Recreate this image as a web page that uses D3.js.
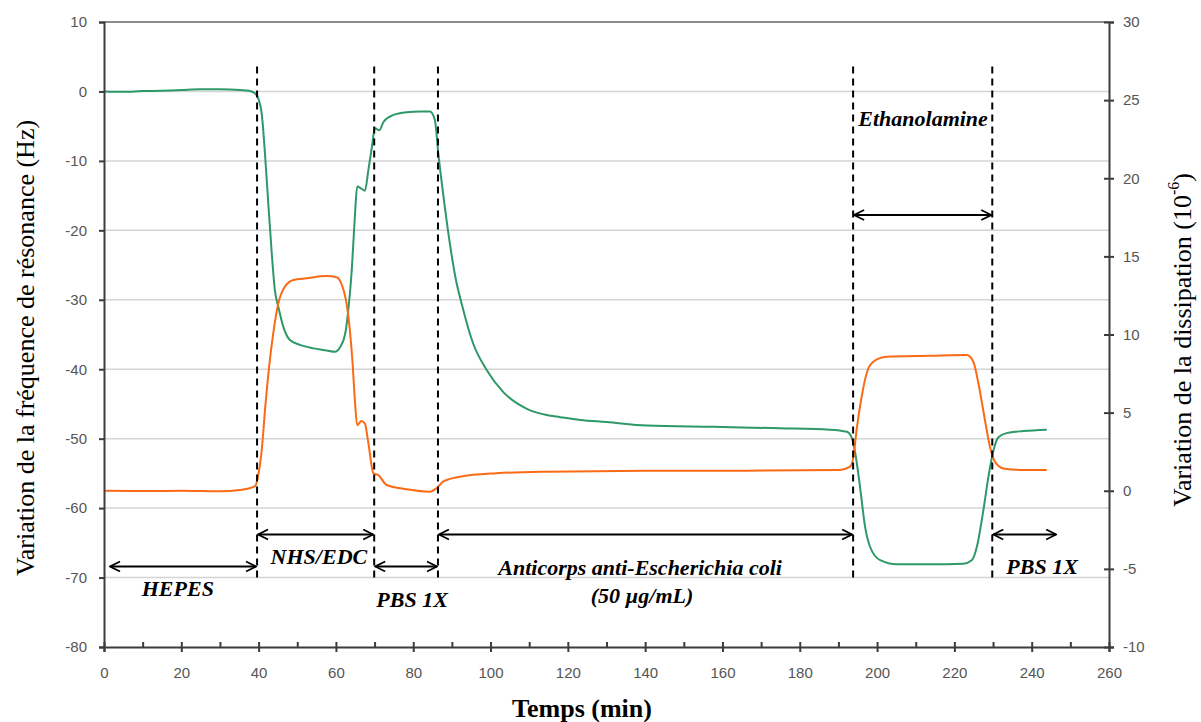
<!DOCTYPE html>
<html><head><meta charset="utf-8">
<script src="https://cdn.jsdelivr.net/npm/d3@7"></script>
<style>body{margin:0;background:#fff}svg{display:block}</style>
</head><body>
<svg id="c" width="1201" height="722"></svg>
<script>
// ---- data ----
const freqTime = [0,5,10,15,20,25,30,35.2,37.5,39.1,39.9,40.8,41.7,42.5,43.4,44.2,45.1,46.4,48.1,50.7,54.2,57.6,59.7,61.1,62.4,63.2,64.1,64.9,65.5,66.6,67.5,68.4,69.3,70.1,71.2,72.3,74.8,78.3,81.8,84.3,85.6,86.5,87.8,89.5,91,92.5,95.5,99,103.3,109.4,114.5,118,123.2,130,140.4,157.6,174.9,187.8,192.2,193.4,194.3,195.6,196.9,198.2,200.8,205.1,213.7,222.3,224.5,225.8,227.5,228.8,230.1,231.4,233.5,237.9,243.9];
const freqHz   = [0,-0.05,0.05,0.1,0.2,0.3,0.3,0.2,0.1,-0.3,-1,-3.2,-9.4,-16.1,-23.3,-28.6,-31,-33.9,-35.8,-36.5,-37,-37.3,-37.5,-36.8,-34.9,-31.5,-25.7,-18,-13.7,-14,-14.3,-11.3,-8,-5.3,-5.6,-4.4,-3.4,-3,-2.9,-2.9,-4.1,-9,-15,-22,-27,-30.5,-36.3,-40.1,-43.3,-45.7,-46.6,-46.9,-47.3,-47.6,-48.1,-48.3,-48.5,-48.7,-49,-49.8,-51.9,-57,-62.7,-65.6,-67.5,-68.1,-68.1,-68,-67.5,-65.6,-60.3,-55.5,-51.7,-49.8,-49.2,-48.9,-48.7];
const dissTime = [0,10,20,30,35.2,39.1,39.9,40.8,41.7,42.7,43.8,45.1,46.8,49,52.4,57.6,60.2,61.5,62.6,63.6,64.3,64.9,65.5,66.6,67.5,68.4,69.7,71,73.1,78.3,84.3,86,87.8,92.1,101.6,114.5,140.4,166.3,190.4,193,193.9,194.7,196,197.3,199,202.5,213.7,223.2,224.9,226.2,227.9,229.2,230.5,232.7,237.9,243.9];
const dissVal  = [0,-0.02,0,-0.03,0.05,0.3,1.0,2.6,5.3,7.9,10.1,12,13.06,13.49,13.6,13.74,13.66,13.2,12.2,10.3,8.2,5.8,4.2,4.46,4.3,3.04,1.12,1.0,0.37,0.1,-0.06,0.15,0.6,0.9,1.12,1.22,1.28,1.28,1.33,1.54,2.18,3.9,6.0,7.52,8.26,8.58,8.64,8.69,8.26,6.9,4.53,2.82,1.86,1.43,1.33,1.33];

const xTicks = [0,20,40,60,80,100,120,140,160,180,200,220,240,260];
const xMinorTicks = [10,30,50,70,90,110,130,150,170,190,210,230,250];
const leftTicks = [-80,-70,-60,-50,-40,-30,-20,-10,0,10];
const rightTicks = [-10,-5,0,5,10,15,20,25,30];

const phaseBounds = [39.6, 69.9, 86.4, 193.8, 229.8];
const phaseArrowFrom = [1.3, 39.6, 69.9, 86.4, 193.8, 229.8];
const phaseArrowTo   = [39.6, 69.9, 86.4, 193.8, 229.8, 246.6];
const phaseArrowHz   = [-68.4, -63.8, -68.4, -63.8, -17.8, -63.8];

const labelTexts = ["HEPES","NHS/EDC","PBS 1X","Anticorps anti-Escherichia coli","(50 µg/mL)","Ethanolamine","PBS 1X"];
const labelTime  = [19.1, 55.6, 79.7, 138.7, 139.2, 211.9, 242.7];
const labelHz    = [-72.7, -68.0, -74.3, -69.7, -73.6, -5.0, -69.5];

const leftTitle = "Variation de la fréquence de résonance  (Hz)";
const rightTitle = "Variation de la dissipation (10";
const rightTitleSup = "-6";
const xTitle = "Temps (min)";

// ---- drawing ----
const svg = d3.select("#c");
const x = d3.scaleLinear([0,260],[104,1109]);
const yL = d3.scaleLinear([-80,10],[647,22]);
const yR = d3.scaleLinear([-10,30],[647,22]);
const axisColor = "#3c3c3c";
const tickFont = "'Liberation Sans', Arial, sans-serif";
const serif = "'Liberation Serif', 'Times New Roman', serif";
const fmt = d => String(d);

// gridlines
svg.append("g").selectAll("line").data(leftTicks.filter(d=>d>-80 && d<10)).join("line")
  .attr("x1",x(0)).attr("x2",x(260)).attr("y1",d=>yL(d)).attr("y2",d=>yL(d))
  .attr("stroke","#d4d4d4").attr("stroke-width",1.5);
svg.append("line").attr("x1",x(0)).attr("x2",x(260)).attr("y1",yL(10)).attr("y2",yL(10))
  .attr("stroke","#666").attr("stroke-width",1.5);

// series
const freq = freqTime.map((t,i)=>({t, v:freqHz[i]}));
const diss = dissTime.map((t,i)=>({t, v:dissVal[i]}));
svg.append("path").datum(freq)
  .attr("d", d3.line().x(d=>x(d.t)).y(d=>yL(d.v)).curve(d3.curveMonotoneX))
  .attr("fill","none").attr("stroke","#2e9868").attr("stroke-width",2);
svg.append("path").datum(diss)
  .attr("d", d3.line().x(d=>x(d.t)).y(d=>yR(d.v)).curve(d3.curveMonotoneX))
  .attr("fill","none").attr("stroke","#fb6a14").attr("stroke-width",2);

// dashed phase boundaries
svg.append("g").selectAll("line").data(phaseBounds).join("line")
  .attr("x1",d=>x(d)).attr("x2",d=>x(d)).attr("y1",yL(3.6)).attr("y2",yL(-70))
  .attr("stroke","#000").attr("stroke-width",2).attr("stroke-dasharray","7,5");

// arrows
const defs = svg.append("defs");
defs.append("marker").attr("id","ah").attr("viewBox","0 0 12 12").attr("refX",11).attr("refY",6)
  .attr("markerWidth",12).attr("markerHeight",12).attr("markerUnits","userSpaceOnUse").attr("orient","auto-start-reverse")
  .append("path").attr("d","M1,1 L11,6 L1,11").attr("fill","none").attr("stroke","#000").attr("stroke-width",1.8);
svg.append("g").selectAll("line").data(phaseArrowFrom).join("line")
  .attr("x1",(d,i)=>x(d)+1).attr("x2",(d,i)=>x(phaseArrowTo[i])-1)
  .attr("y1",(d,i)=>yL(phaseArrowHz[i])).attr("y2",(d,i)=>yL(phaseArrowHz[i]))
  .attr("stroke","#000").attr("stroke-width",2)
  .attr("marker-start","url(#ah)").attr("marker-end","url(#ah)");

// phase labels
svg.append("g").selectAll("text").data(labelTexts).join("text")
  .attr("x",(d,i)=>x(labelTime[i])).attr("y",(d,i)=>yL(labelHz[i]))
  .attr("text-anchor","middle").attr("font-family",serif).attr("font-weight","bold")
  .attr("font-style","italic").attr("font-size",22).attr("fill","#000").text(d=>d);

// axes
const gx = svg.append("g").attr("transform",`translate(0,${yL(-80)})`)
  .call(d3.axisBottom(x).tickValues(xTicks).tickSizeOuter(0).tickSize(5).tickFormat(fmt));
gx.selectAll(".tick line").attr("y1",-5).attr("y2",5);
gx.selectAll(".tick text").attr("y",26).attr("dy","0.35em");
const gxm = svg.append("g").attr("transform",`translate(0,${yL(-80)})`)
  .call(d3.axisBottom(x).tickValues(xMinorTicks).tickSizeOuter(0).tickSize(-5).tickFormat(""));
gxm.select(".domain").remove();

const gl = svg.append("g").attr("transform",`translate(${x(0)},0)`)
  .call(d3.axisLeft(yL).tickValues(leftTicks).tickSizeOuter(0).tickSize(5).tickPadding(12).tickFormat(fmt));
const gr = svg.append("g").attr("transform",`translate(${x(260)},0)`)
  .call(d3.axisRight(yR).tickValues(rightTicks).tickSizeOuter(0).tickSize(5).tickPadding(9).tickFormat(fmt));
gr.selectAll(".tick line").attr("x1",-5).attr("x2",5);

[gx,gxm,gl,gr].forEach(g=>{
  g.selectAll(".domain,.tick line").attr("stroke",axisColor).attr("stroke-width",2);
  g.selectAll(".tick text").attr("font-family",tickFont).attr("font-size",15).attr("fill","#555");
});

// axis titles
svg.append("text").attr("transform","translate(25,348) rotate(-90)")
  .attr("text-anchor","middle").attr("dominant-baseline","central")
  .attr("font-family",serif).attr("font-size",26).attr("fill","#000").text(leftTitle);
const rt = svg.append("text").attr("transform","translate(1182,340) rotate(-90)")
  .attr("text-anchor","middle").attr("dominant-baseline","central")
  .attr("font-family",serif).attr("font-size",26).attr("fill","#000");
rt.append("tspan").text(rightTitle);
rt.append("tspan").attr("font-size",16).attr("dy",-9).text(rightTitleSup);
rt.append("tspan").attr("dy",9).text(")");
svg.append("text").attr("x",582).attr("y",717).attr("text-anchor","middle")
  .attr("font-family",serif).attr("font-weight","bold").attr("font-size",26).attr("fill","#000").text(xTitle);
</script>
</body></html>
